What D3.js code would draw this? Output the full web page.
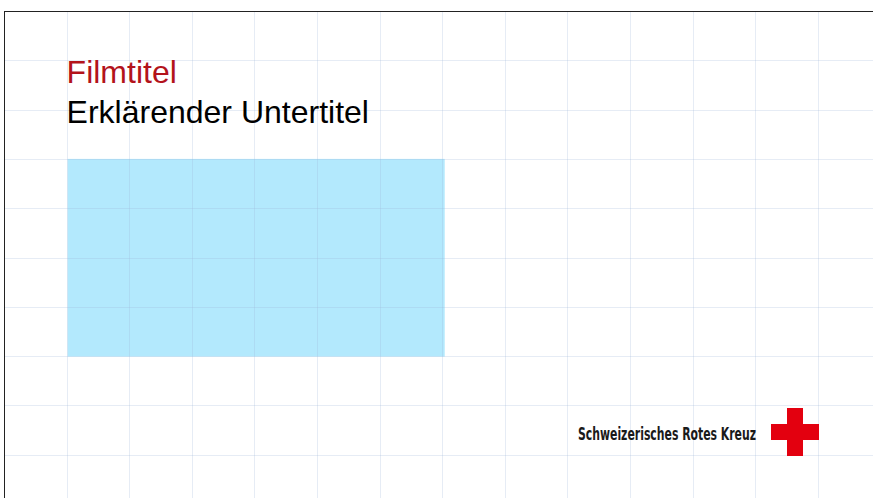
<!DOCTYPE html>
<html><head><meta charset="utf-8">
<script src="https://cdn.jsdelivr.net/npm/d3@7"></script>
<style>html,body{margin:0;padding:0;background:#fff;overflow:hidden}</style>
</head><body><svg id="c" width="873" height="498"></svg>
<script>
// Slide grid (16:9), 14 columns x 10 rows
const gridCols = d3.range(0, 15);
const gridRows = d3.range(0, 11);
// Placeholder image area (in grid units)
const boxCols = [1, 7];
const boxRows = [3, 7];
// Texts
const titleText = "Filmtitel";
const subtitleText = "Erklärender Untertitel";
const logoText = "Schweizerisches Rotes Kreuz";

const svg = d3.select("#c");
const x = d3.scaleLinear().domain([0, 14]).range([4, 880.4]);
const y = d3.scaleLinear().domain([0, 10]).range([11, 504]);

// placeholder box
svg.append("rect")
  .attr("x", x(boxCols[0]) + 1).attr("y", y(boxRows[0]))
  .attr("width", x(boxCols[1]) - x(boxCols[0]) + 1.5)
  .attr("height", y(boxRows[1]) - y(boxRows[0]) + 0.5)
  .attr("fill", "#b3e9fd");

// grid
const g = svg.append("g").attr("stroke", "rgba(160,180,215,0.26)").attr("stroke-width", 1);
g.selectAll(".v").data(gridCols.slice(1, -1)).join("line")
  .attr("x1", d => Math.round(x(d)) + 0.5).attr("x2", d => Math.round(x(d)) + 0.5)
  .attr("y1", y(0)).attr("y2", y(10));
g.selectAll(".h").data(gridRows.slice(1, -1)).join("line")
  .attr("y1", d => Math.round(y(d)) + 0.5).attr("y2", d => Math.round(y(d)) + 0.5)
  .attr("x1", x(0)).attr("x2", x(14));

// frame
svg.append("rect").attr("x", x(0) + 0.5).attr("y", y(0) + 0.5)
  .attr("width", x(14) - x(0)).attr("height", y(10) - y(0))
  .attr("fill", "none").attr("stroke", "#222").attr("stroke-width", 1);

// titles
svg.append("text").attr("x", x(1)).attr("y", 82.7)
  .attr("font-family", "Liberation Sans, Arial, sans-serif").attr("font-size", 32)
  .attr("fill", "#b3131b").text(titleText);
svg.append("text").attr("x", x(1)).attr("y", 123)
  .attr("font-family", "Liberation Sans, Arial, sans-serif").attr("font-size", 32)
  .attr("fill", "#000").text(subtitleText);

// logo
svg.append("text").attr("x", 578).attr("y", 440)
  .attr("font-family", "DejaVu Sans Condensed, DejaVu Sans, sans-serif")
  .attr("font-weight", "bold").attr("font-size", 18)
  .attr("textLength", 178).attr("lengthAdjust", "spacingAndGlyphs")
  .attr("fill", "#1a1a1a").text(logoText);
const cx = 795, cy = 432, arm = 24, w = 8;
svg.append("path")
  .attr("d", `M${cx-w},${cy-arm}H${cx+w}V${cy-w}H${cx+arm}V${cy+w}H${cx+w}V${cy+arm}H${cx-w}V${cy+w}H${cx-arm}V${cy-w}H${cx-w}Z`)
  .attr("fill", "#e3000f");
</script></body></html>
